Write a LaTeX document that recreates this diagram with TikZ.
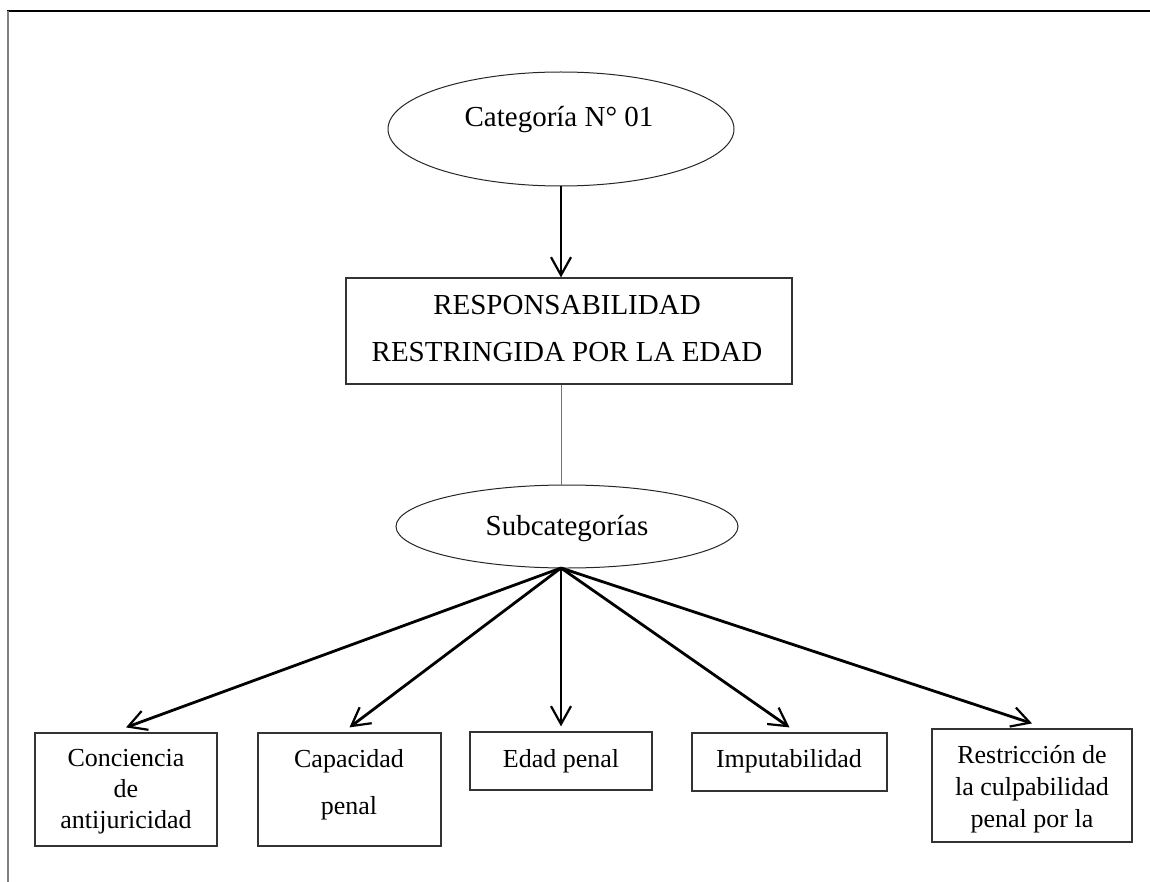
\documentclass[tikz,border=0pt]{standalone}
\usepackage{fontspec}
\setmainfont{Liberation Serif}
\usetikzlibrary{shapes.geometric,arrows.meta}
\begin{document}
\begin{tikzpicture}[x=0.5pt,y=-0.5pt,
  oval/.style={draw=black!85, ellipse, line width=0.5pt, inner sep=0pt},
  box/.style={draw=black!80, rectangle, line width=0.6pt, inner sep=0pt},
  big/.style={font=\fontsize{14.5pt}{23.5pt}\selectfont, align=center, inner sep=0pt},
  small/.style={font=\fontsize{13pt}{15.5pt}\selectfont, align=center, inner sep=0pt},
  smallwide/.style={font=\fontsize{13pt}{23.5pt}\selectfont, align=center, inner sep=0pt},
  barb/.style={-{Straight Barb[length=9pt,width=10pt,line width=1.1pt]}},
  down/.style={barb, line width=1pt},
  link/.style={barb, line width=1.4pt},
  plain/.style={draw=black!55, line width=0.5pt},
]
\useasboundingbox (0,0) rectangle (1150,882);

% page frame
\draw[line width=0.7pt] (7,11) -- (1150,11);
\draw[black!50, line width=1pt] (8,11) -- (8,882);

% category and main concept
\node[oval, minimum width=173pt, minimum height=57pt] (cat) at (561,129) {};
\node[big, anchor=base] (cattext) at (559,127) {Categoría N° 01};

\node[box, minimum width=223pt, minimum height=53pt] (main) at (569,331) {};
\node[big] (maintext) at (567,329) {RESPONSABILIDAD\\RESTRINGIDA POR LA EDAD};

% subcategories
\node[oval, minimum width=171pt, minimum height=41.5pt] (sub) at (567,526.5) {};
\node[big, anchor=base] (subtext) at (567,535) {Subcategorías};
\coordinate (fan) at (561,568);

% leaf boxes
\node[box, minimum width=91pt, minimum height=56.5pt] (b1) at (126,789.5) {};
\node[box, minimum width=91.5pt, minimum height=56.5pt] (b2) at (349.5,789.5) {};
\node[box, minimum width=91pt, minimum height=29pt] (b3) at (561,761) {};
\node[box, minimum width=97.5pt, minimum height=29pt] (b4) at (789.5,762) {};
\node[box, minimum width=100pt, minimum height=56.5pt] (b5) at (1032,785.5) {};

\node[small] (t1) at (126,792) {Conciencia\\de\\antijuricidad};
\node[smallwide] (t2) at (349,785) {Capacidad\\penal};
\node[small, anchor=base] (t3) at (561,767) {Edad penal};
\node[small, anchor=base] (t4) at (789,767) {Imputabilidad};
\node[font=\fontsize{13pt}{16pt}\selectfont, align=center, inner sep=0pt] (t5) at (1032,789) {Restricción de\\la culpabilidad\\penal por la};

% connectors
\draw[down] (cat.south) -- (cat.south |- main.north);
\draw[plain] (main.south -| fan) -- (sub.north -| fan);
\foreach \b in {b1,b2,b3,b4,b5}
  \draw[link] (fan) -- ([yshift=2.5pt]\b.north);
\end{tikzpicture}
\end{document}
